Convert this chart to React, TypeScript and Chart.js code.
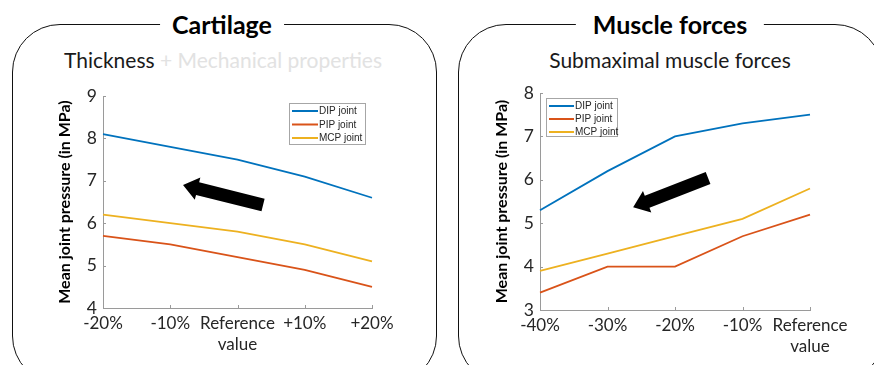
import React, { useEffect, useRef } from 'react';
import { Chart, registerables } from 'chart.js';

Chart.register(...registerables);

// ---------- data ----------
const seriesLabels = ['DIP joint', 'PIP joint', 'MCP joint'];
const seriesColors = ['#0072BD', '#D95319', '#EDB120'];

const cartilageCategories: (string | string[])[] = ['-20%', '-10%', ['Reference', 'value'], '+10%', '+20%'];
const cartilageDIP = [8.1, 7.8, 7.5, 7.1, 6.6];
const cartilagePIP = [5.7, 5.5, 5.2, 4.9, 4.5];
const cartilageMCP = [6.2, 6.0, 5.8, 5.5, 5.1];
const cartilageYRange = [4, 9];
// arrow in data units: [category index, MPa]
const cartilageArrowFrom = [2.38, 6.43];
const cartilageArrowTo = [1.19, 6.9];

const muscleCategories: (string | string[])[] = ['-40%', '-30%', '-20%', '-10%', ['Reference', 'value']];
const muscleDIP = [5.3, 6.2, 7.0, 7.3, 7.5];
const musclePIP = [3.4, 4.0, 4.0, 4.7, 5.2];
const muscleMCP = [3.9, 4.3, 4.7, 5.1, 5.8];
const muscleYRange = [3, 8];
const muscleArrowFrom = [2.49, 6.04];
const muscleArrowTo = [1.38, 5.37];

const AXIS_COLOR = '#9a9a9a';
const TEXT_COLOR = '#262626';

// ---------- plugins ----------
const boxLegendPlugin = {
  id: 'boxLegend',
  afterDatasetsDraw(chart: any, _args: any, opts: any) {
    const { ctx, chartArea } = chart;
    const x = opts.anchor === 'right'
      ? chartArea.right - opts.offsetX - opts.width
      : chartArea.left + opts.offsetX;
    const y = chartArea.top + opts.offsetY;
    ctx.save();
    ctx.fillStyle = '#ffffff';
    ctx.fillRect(x, y, opts.width, opts.height);
    ctx.strokeStyle = '#a6a6a6';
    ctx.lineWidth = 1;
    ctx.strokeRect(Math.round(x) + 0.5, Math.round(y) + 0.5, opts.width - 1, opts.height - 1);
    ctx.font = `${opts.fontSize}px "Liberation Sans", Arial, sans-serif`;
    ctx.textBaseline = 'middle';
    ctx.textAlign = 'left';
    chart.data.datasets.forEach((ds: any, i: number) => {
      const ry = y + opts.firstRow + i * opts.rowGap;
      ctx.strokeStyle = ds.borderColor;
      ctx.lineWidth = 2;
      ctx.beginPath();
      ctx.moveTo(x + 3, ry);
      ctx.lineTo(x + 3 + opts.lineLen, ry);
      ctx.stroke();
      ctx.fillStyle = TEXT_COLOR;
      ctx.fillText(ds.label, x + 4 + opts.lineLen, ry + 0.5);
    });
    ctx.restore();
  },
};

const fatArrowPlugin = {
  id: 'fatArrow',
  afterDatasetsDraw(chart: any, _args: any, opts: any) {
    const { ctx } = chart;
    const xs = chart.scales.x;
    const ys = chart.scales.y;
    const x1 = xs.getPixelForValue(opts.from[0]);
    const y1 = ys.getPixelForValue(opts.from[1]);
    const x2 = xs.getPixelForValue(opts.to[0]);
    const y2 = ys.getPixelForValue(opts.to[1]);
    const ang = Math.atan2(y2 - y1, x2 - x1);
    const len = Math.hypot(x2 - x1, y2 - y1);
    const sw = opts.shaft / 2;
    const hw = opts.headWidth / 2;
    const hl = opts.headLength;
    ctx.save();
    ctx.translate(x1, y1);
    ctx.rotate(ang);
    ctx.beginPath();
    ctx.moveTo(0, -sw);
    ctx.lineTo(len - hl, -sw);
    ctx.lineTo(len - hl, -hw);
    ctx.lineTo(len, 0);
    ctx.lineTo(len - hl, hw);
    ctx.lineTo(len - hl, sw);
    ctx.lineTo(0, sw);
    ctx.closePath();
    ctx.fillStyle = '#000000';
    ctx.fill();
    ctx.restore();
  },
};

const innerTicksPlugin = {
  id: 'innerTicks',
  afterDraw(chart: any) {
    const { ctx, chartArea } = chart;
    const xs = chart.scales.x;
    const ys = chart.scales.y;
    ctx.save();
    ctx.strokeStyle = AXIS_COLOR;
    ctx.lineWidth = 1;
    ctx.beginPath();
    xs.ticks.forEach((_t: any, i: number) => {
      const px = Math.round(xs.getPixelForTick(i)) + 0.5;
      ctx.moveTo(px, chartArea.bottom);
      ctx.lineTo(px, chartArea.bottom - 3);
    });
    ys.ticks.forEach((_t: any, i: number) => {
      const py = Math.round(ys.getPixelForTick(i)) + 0.5;
      ctx.moveTo(chartArea.left, py);
      ctx.lineTo(chartArea.left + 3, py);
    });
    ctx.stroke();
    ctx.restore();
  },
};

function buildConfig(
  categories: (string | string[])[],
  dip: number[],
  pip: number[],
  mcp: number[],
  yRange: number[],
  arrowFrom: number[],
  arrowTo: number[],
  layout: { padLeft: number; padRight: number; padTop: number; xHeight: number; yWidth: number },
  legend: any,
): any {
  const values = [dip, pip, mcp];
  return {
    type: 'line',
    data: {
      labels: categories,
      datasets: values.map((v, i) => ({
        label: seriesLabels[i],
        data: v,
        borderColor: seriesColors[i],
        backgroundColor: seriesColors[i],
        borderWidth: 1.8,
        pointRadius: 0,
        tension: 0,
        fill: false,
      })),
    },
    options: {
      responsive: false,
      animation: false,
      events: [],
      layout: {
        padding: { left: layout.padLeft, right: layout.padRight, top: layout.padTop, bottom: 0 },
      },
      scales: {
        x: {
          type: 'category',
          offset: false,
          grid: { display: false, drawTicks: false },
          border: { display: true, color: AXIS_COLOR, width: 1 },
          ticks: {
            color: TEXT_COLOR,
            font: { family: 'Lato', size: 17, lineHeight: 1.22 },
            padding: 5,
            maxRotation: 0,
            autoSkip: false,
          },
          afterFit: (s: any) => { s.height = layout.xHeight; },
        },
        y: {
          type: 'linear',
          min: yRange[0],
          max: yRange[1],
          grid: { display: false, drawTicks: false },
          border: { display: true, color: AXIS_COLOR, width: 1 },
          ticks: {
            stepSize: 1,
            color: TEXT_COLOR,
            font: { family: 'Lato', size: 17.5 },
            padding: 6,
          },
          title: {
            display: true,
            text: 'Mean joint pressure (in MPa)',
            color: '#000000',
            font: { family: 'Lato', size: 16, weight: 'bold' },
            padding: { top: 4, bottom: 4 },
          },
          afterFit: (s: any) => { s.width = layout.yWidth; },
        },
      },
      plugins: {
        legend: { display: false },
        tooltip: { enabled: false },
        boxLegend: legend,
        fatArrow: { from: arrowFrom, to: arrowTo, shaft: 13, headWidth: 23, headLength: 15 },
      },
    },
    plugins: [boxLegendPlugin, fatArrowPlugin, innerTicksPlugin],
  };
}

function ChartCanvas({ config, left }: { config: any; left: number }) {
  const ref = useRef<HTMLCanvasElement | null>(null);
  useEffect(() => {
    if (!ref.current) return;
    const chart = new Chart(ref.current, config);
    return () => chart.destroy();
  }, [config]);
  return (
    <canvas
      ref={ref}
      width={437}
      height={365}
      style={{ position: 'absolute', left, top: 0, width: 437, height: 365 }}
    />
  );
}

const cartilageConfig = buildConfig(
  cartilageCategories, cartilageDIP, cartilagePIP, cartilageMCP, cartilageYRange,
  cartilageArrowFrom, cartilageArrowTo,
  { padLeft: 51, padRight: 65, padTop: 96, xHeight: 57, yWidth: 52 },
  { anchor: 'right', offsetX: 6, offsetY: 7, width: 77, height: 42, firstRow: 8, rowGap: 13.5, lineLen: 26, fontSize: 10 },
);

const muscleConfig = buildConfig(
  muscleCategories, muscleDIP, musclePIP, muscleMCP, muscleYRange,
  muscleArrowFrom, muscleArrowTo,
  { padLeft: 51, padRight: 64, padTop: 93, xHeight: 55, yWidth: 52 },
  { anchor: 'left', offsetX: 6, offsetY: 5, width: 72, height: 39, firstRow: 8, rowGap: 13, lineLen: 25, fontSize: 10 },
);

const frameStyle: React.CSSProperties = {
  position: 'absolute',
  top: 24,
  height: 360,
  border: '1.7px solid #111',
  borderRadius: 48,
  boxSizing: 'border-box',
};

const titleStyle: React.CSSProperties = {
  position: 'absolute',
  top: 24,
  transform: 'translate(-50%, -50%)',
  background: '#ffffff',
  fontFamily: 'Lato, sans-serif',
  fontWeight: 'bold',
  fontSize: 25,
  lineHeight: '28px',
  color: '#000',
  whiteSpace: 'nowrap',
};

const subStyle: React.CSSProperties = {
  position: 'absolute',
  top: 60,
  transform: 'translate(-50%, -50%)',
  fontFamily: 'Lato, sans-serif',
  fontSize: 21,
  lineHeight: '24px',
  color: '#1a1a1a',
  whiteSpace: 'nowrap',
};

export default function App() {
  return (
    <div
      style={{
        position: 'absolute',
        left: 0,
        top: 0,
        width: 874,
        height: 365,
        overflow: 'hidden',
        background: '#ffffff',
      }}
    >
      <div style={{ ...frameStyle, left: 12, width: 425 }} />
      <div style={{ ...frameStyle, left: 458, width: 425 }} />
      <div style={{ ...titleStyle, left: 222, padding: '0 12px' }}>Cartilage</div>
      <div style={{ ...titleStyle, left: 670, padding: '0 17px' }}>Muscle forces</div>
      <div style={{ ...subStyle, left: 223 }}>
        Thickness <span style={{ color: '#e2e2e2' }}>+ Mechanical properties</span>
      </div>
      <div style={{ ...subStyle, left: 670 }}>Submaximal muscle forces</div>
      <ChartCanvas config={cartilageConfig} left={0} />
      <ChartCanvas config={muscleConfig} left={437} />
    </div>
  );
}
